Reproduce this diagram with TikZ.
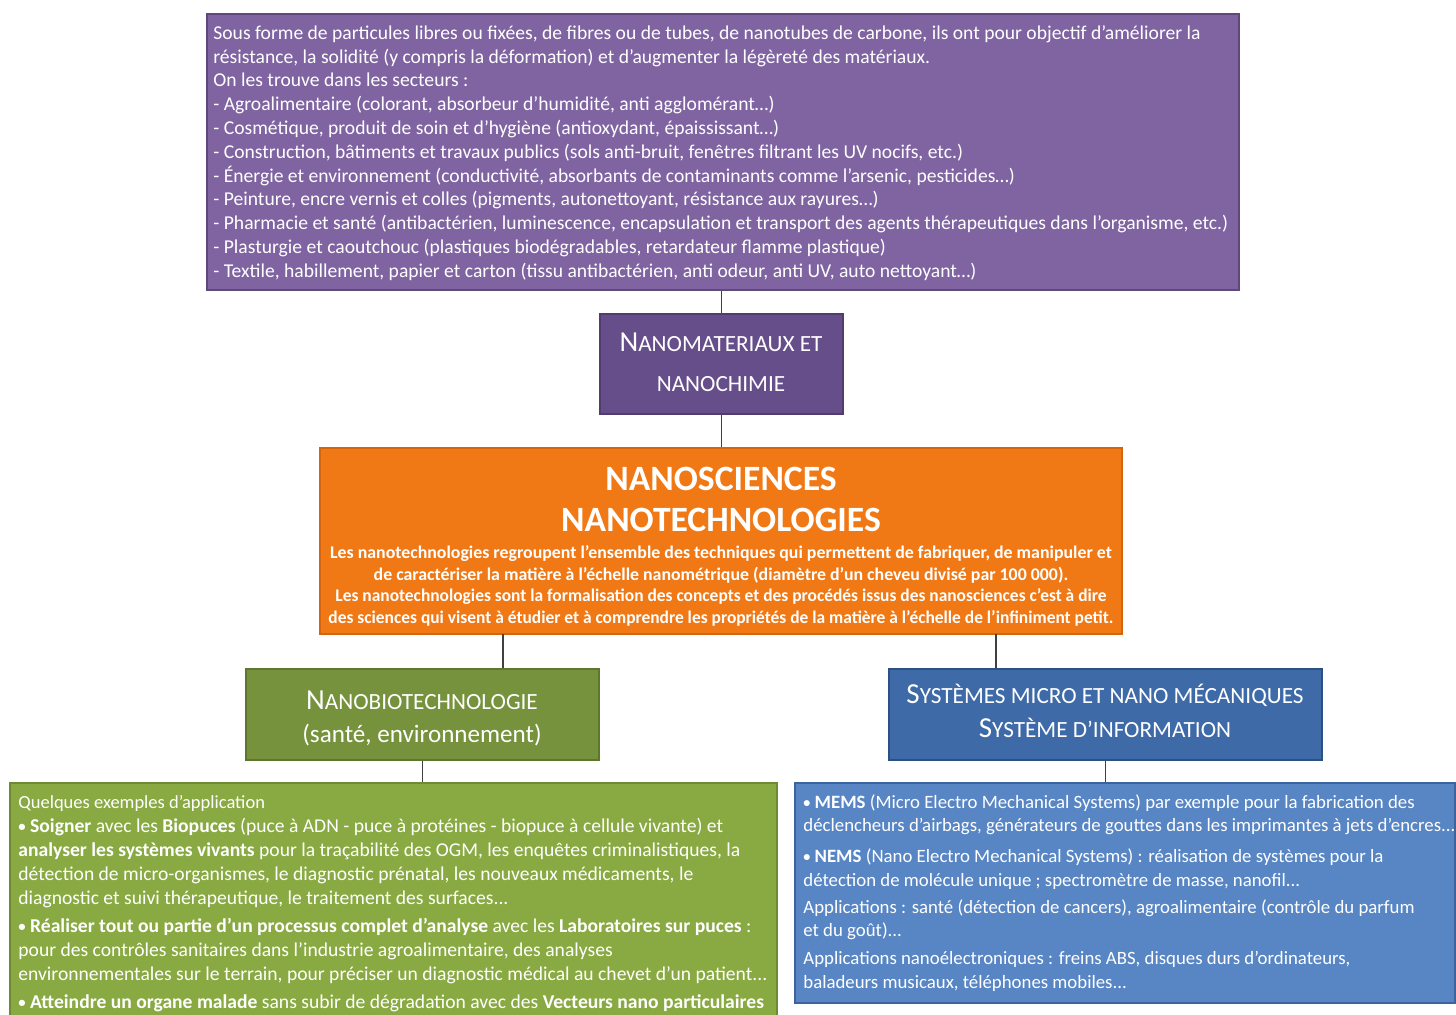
\documentclass[tikz,border=0pt]{standalone}
\usepackage{fontspec}
\usepackage{graphicx}
\setmainfont{Carlito}
\definecolor{purpleA}{RGB}{128,100,162}
\definecolor{purpleAd}{RGB}{94,73,122}
\definecolor{purpleB}{RGB}{102,78,138}
\definecolor{purpleBd}{RGB}{80,60,110}
\definecolor{orangeA}{RGB}{240,121,22}
\definecolor{orangeAd}{RGB}{214,100,12}
\definecolor{greenA}{RGB}{118,146,60}
\definecolor{greenAd}{RGB}{95,118,46}
\definecolor{greenB}{RGB}{137,170,66}
\definecolor{greenBd}{RGB}{110,138,50}
\definecolor{blueA}{RGB}{62,106,168}
\definecolor{blueAd}{RGB}{45,80,130}
\definecolor{blueB}{RGB}{88,134,196}
\definecolor{blueBd}{RGB}{60,100,155}
\definecolor{linkc}{RGB}{64,64,64}
\newcommand{\bigsc}{\fontsize{14.5}{17}\selectfont}
\newcommand{\smsc}{\fontsize{11.6}{14}\selectfont}
\newcommand{\bul}{\raisebox{0.12ex}{\scalebox{0.75}{•}}}
\newcommand{\narrow}[1]{\scalebox{0.976}[1]{#1}}
\tikzset{
  boxbase/.style={rectangle, inner sep=0pt, line width=0.6pt},
  txt/.style={inner sep=0pt, text=white},
  link/.style={draw=linkc, line width=0.6pt},
}
\begin{document}
\begin{tikzpicture}[x=0.5pt,y=-0.5pt]
\useasboundingbox (0,0) rectangle (1456,1014);
\clip (0,0) rectangle (1456,1014);
\fill[white] (0,0) rectangle (1456,1014);

% boxes
\node[boxbase, fill=purpleA, draw=purpleAd, minimum width=516pt, minimum height=138pt] (top) at (723,152) {};
\node[boxbase, fill=purpleB, draw=purpleBd, minimum width=121.5pt, minimum height=50pt] (nanomat) at (721.5,364) {};
\node[boxbase, fill=orangeA, draw=orangeAd, minimum width=401pt, minimum height=93pt] (orange) at (721,541) {};
\node[boxbase, fill=greenA, draw=greenAd, minimum width=176.5pt, minimum height=45.5pt] (greenhead) at (422.5,714.5) {};
\node[boxbase, fill=blueA, draw=blueAd, minimum width=216.5pt, minimum height=45.5pt] (bluehead) at (1105.5,714.5) {};
\node[boxbase, fill=greenB, draw=greenBd, minimum width=383.5pt, minimum height=123.5pt] (greenbody) at (393.5,906.5) {};
\node[boxbase, fill=blueB, draw=blueBd, minimum width=330pt, minimum height=110pt] (bluebody) at (1125,893) {};

% connectors
\coordinate (og) at (503,634);
\coordinate (ob) at (996,634);
\draw[link] (nanomat.north) -- (nanomat.north |- top.south);
\draw[link] (nanomat.south) -- (nanomat.south |- orange.north);
\draw[link] (og) -- (og |- greenhead.north);
\draw[link] (ob) -- (ob |- bluehead.north);
\draw[link] (greenhead.south) -- (greenhead.south |- greenbody.north);
\draw[link] (bluehead.south) -- (bluehead.south |- bluebody.north);

% top text
\node[txt, anchor=north west, align=left, font=\fontsize{9.8}{11.9}\selectfont] (toptext) at (213,25) {%
Sous forme de particules libres ou fixées, de fibres ou de tubes, de nanotubes de carbone, ils ont pour objectif d’améliorer la\\
résistance, la solidité (y compris la déformation) et d’augmenter la légèreté des matériaux.\\
On les trouve dans les secteurs :\\
- Agroalimentaire (colorant, absorbeur d’humidité, anti agglomérant…)\\
- Cosmétique, produit de soin et d’hygiène (antioxydant, épaississant…)\\
- Construction, bâtiments et travaux publics (sols anti-bruit, fenêtres filtrant les UV nocifs, etc.)\\
- Énergie et environnement (conductivité, absorbants de contaminants comme l’arsenic, pesticides…)\\
- Peinture, encre vernis et colles (pigments, autonettoyant, résistance aux rayures…)\\
- Pharmacie et santé (antibactérien, luminescence, encapsulation et transport des agents thérapeutiques dans l’organisme, etc.)\\
- Plasturgie et caoutchouc (plastiques biodégradables, retardateur flamme plastique)\\
- Textile, habillement, papier et carton (tissu antibactérien, anti odeur, anti UV, auto nettoyant…)};

% nanomat text
\node[txt, anchor=base] (nm1) at (721,351) {{\bigsc N}{\smsc ANOMATERIAUX ET}};
\node[txt, anchor=base] (nm2) at (721,391) {{\smsc NANOCHIMIE}};

% orange text
\node[txt, anchor=base, font=\fontsize{17.8}{21}\selectfont\bfseries] (t1) at (721,490) {NANOSCIENCES};
\node[txt, anchor=base, font=\fontsize{17.8}{21}\selectfont\bfseries] (t2) at (721,531) {NANOTECHNOLOGIES};
\node[txt, anchor=north, align=center, font=\fontsize{8.92}{10.85}\selectfont\bfseries] (otext) at (721,545) {%
Les nanotechnologies regroupent l’ensemble des techniques qui permettent de fabriquer, de manipuler et\\
de caractériser la matière à l’échelle nanométrique (diamètre d’un cheveu divisé par 100 000).\\
\narrow{Les nanotechnologies sont la formalisation des concepts et des procédés issus des nanosciences c’est à dire}\\
\narrow{des sciences qui visent à étudier et à comprendre les propriétés de la matière à l’échelle de l’infiniment petit.}};

% green head text
\node[txt, anchor=base] (gh1) at (422,709) {{\bigsc N}{\smsc ANOBIOTECHNOLOGIE}};
\node[txt, anchor=base] (gh2) at (422,742) {{\fontsize{12.55}{15}\selectfont (santé, environnement)}};

% blue head text
\node[txt, anchor=base] (bh1) at (1105,703) {{\bigsc S}{\smsc YSTÈMES MICRO ET NANO MÉCANIQUES}};
\node[txt, anchor=base] (bh2) at (1105,737) {{\bigsc S}{\smsc YSTÈME D’INFORMATION}};

% green body text
\node[txt, anchor=north west, align=left, font=\fontsize{9.8}{11.95}\selectfont] (gtext) at (18,795) {%
{\fontsize{9.25}{11.95}\selectfont Quelques exemples d’application}\\
\textbf{\bul{} Soigner} avec les \textbf{Biopuces} (puce à ADN - puce à protéines - biopuce à cellule vivante) et\\
\textbf{analyser les systèmes vivants} pour la traçabilité des OGM, les enquêtes criminalistiques, la\\
détection de micro-organismes, le diagnostic prénatal, les nouveaux médicaments, le\\
diagnostic et suivi thérapeutique, le traitement des surfaces...\\[2.2pt]
\textbf{\bul{} Réaliser tout ou partie d’un processus complet d’analyse} avec les \textbf{Laboratoires sur puces} :\\
pour des contrôles sanitaires dans l’industrie agroalimentaire, des analyses\\
environnementales sur le terrain, pour préciser un diagnostic médical au chevet d’un patient...\\[2.2pt]
\textbf{\bul{} Atteindre un organe malade} sans subir de dégradation avec des \textbf{Vecteurs nano particulaires}};

% blue body text
\node[txt, anchor=north west, align=left, font=\fontsize{9.4}{11.8}\selectfont] (btext) at (803,794) {%
\textbf{\bul{} MEMS} (Micro Electro Mechanical Systems) par exemple pour la fabrication des\\
déclencheurs d'airbags, générateurs de gouttes dans les imprimantes à jets d'encres...\\[3.6pt]
\textbf{\bul{} NEMS} (Nano Electro Mechanical Systems) : réalisation de systèmes pour la\\
détection de molécule unique ; spectromètre de masse, nanofil...\\[1.8pt]
Applications : santé (détection de cancers), agroalimentaire (contrôle du parfum\\
et du goût)...\\[2.2pt]
Applications nanoélectroniques : freins ABS, disques durs d'ordinateurs,\\
baladeurs musicaux, téléphones mobiles...};
\end{tikzpicture}
\end{document}
